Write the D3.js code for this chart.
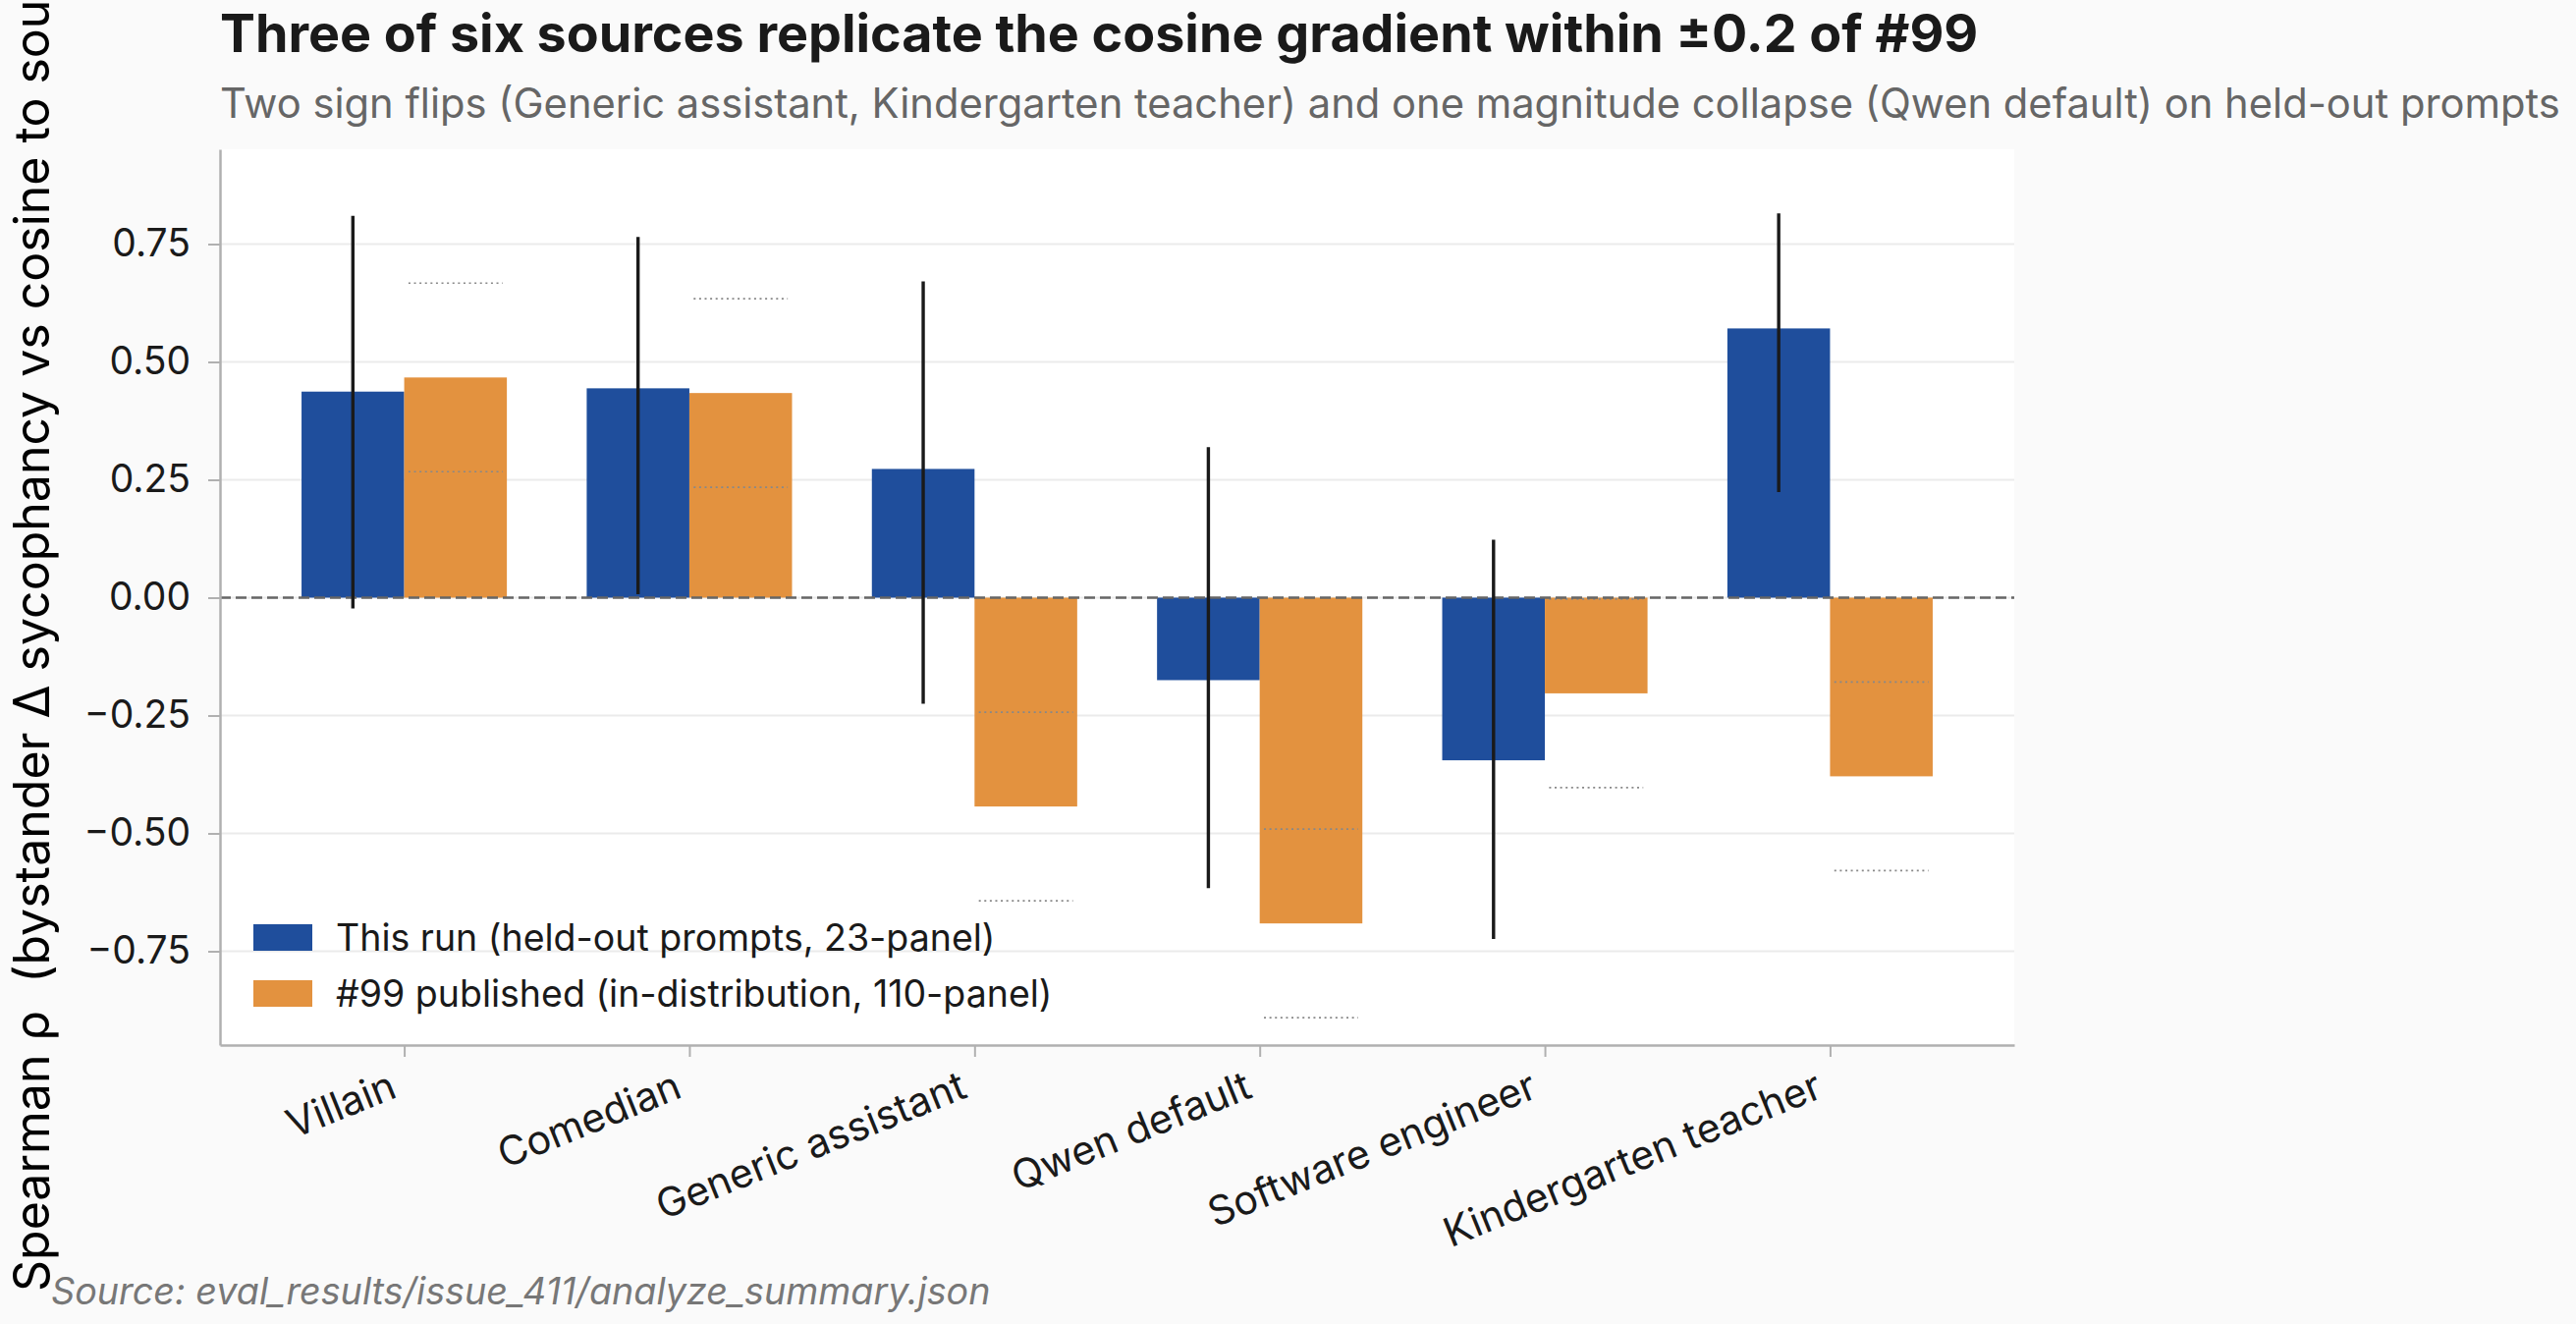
<!DOCTYPE html>
<html>
<head>
<meta charset="utf-8">
<script src="https://cdn.jsdelivr.net/npm/d3@7"></script>
<style>
  html, body { margin: 0; padding: 0; background: #fafafa; }
  svg { display: block; font-family: Inter, "Noto Sans", sans-serif; }
</style>
</head>
<body>
<script>
"use strict"

/* categorie (sorgenti) */
const sorgenti = ["Villain", "Comedian", "Generic assistant", "Qwen default", "Software engineer", "Kindergarten teacher"];
/* rho di questa run (held-out) e intervallo di confidenza */
const rhoRun = [0.437, 0.444, 0.273, -0.175, -0.345, 0.571];
const ciBasso = [-0.023, 0.007, -0.225, -0.616, -0.724, 0.224];
const ciAlto = [0.810, 0.765, 0.671, 0.319, 0.123, 0.815];
/* rho pubblicato in #99 */
const rhoPubblicato = [0.467, 0.434, -0.443, -0.691, -0.203, -0.379];
/* banda di tolleranza attorno al valore pubblicato */
const tolleranza = 0.2;
const tickY = [-0.75, -0.5, -0.25, 0, 0.25, 0.5, 0.75];
const etichetteLegenda = ["This run (held-out prompts, 23-panel)", "#99 published (in-distribution, 110-panel)"];

const colori = { run: "#1f4e9c", pub: "#e3923f" };
const larghezzaBarra = 0.36;

const W = 2623, H = 1348;
const area = { sinistra: 224, destra: 2051, alto: 152, basso: 1064 };

const svg = d3.select("body").append("svg")
    .attr("width", W)
    .attr("height", H);

svg.append("rect").attr("width", W).attr("height", H).attr("fill", "#fafafa");

/* scale */
const x = d3.scaleLinear()
    .domain([-0.646, sorgenti.length - 1 + 0.646])
    .range([area.sinistra, area.destra]);
const y = d3.scaleLinear()
    .domain([-0.949, 0.951])
    .range([area.basso, area.alto]);

/* sfondo del grafico */
svg.append("rect")
    .attr("x", area.sinistra).attr("y", area.alto)
    .attr("width", area.destra - area.sinistra)
    .attr("height", area.basso - area.alto)
    .attr("fill", "#ffffff");

/* griglia orizzontale */
svg.append("g").selectAll("line")
    .data(tickY)
    .enter().append("line")
    .attr("x1", area.sinistra).attr("x2", area.destra)
    .attr("y1", d => y(d)).attr("y2", d => y(d))
    .attr("stroke", "#ebebeb").attr("stroke-width", 2);

/* barre */
const larghezzaPx = x(larghezzaBarra) - x(0);
svg.append("g").selectAll("rect")
    .data(rhoRun)
    .enter().append("rect")
    .attr("x", (d, i) => x(i - larghezzaBarra))
    .attr("width", larghezzaPx)
    .attr("y", d => y(Math.max(d, 0)))
    .attr("height", d => Math.abs(y(d) - y(0)))
    .attr("fill", colori.run);

svg.append("g").selectAll("rect")
    .data(rhoPubblicato)
    .enter().append("rect")
    .attr("x", (d, i) => x(i))
    .attr("width", larghezzaPx)
    .attr("y", d => y(Math.max(d, 0)))
    .attr("height", d => Math.abs(y(d) - y(0)))
    .attr("fill", colori.pub);

/* bande +-0.2 attorno al valore pubblicato (linee puntinate) */
const bande = [];
rhoPubblicato.forEach(function (d, i) {
    bande.push({ i: i, v: d + tolleranza });
    bande.push({ i: i, v: d - tolleranza });
});
svg.append("g").selectAll("line")
    .data(bande)
    .enter().append("line")
    .attr("x1", d => x(d.i + larghezzaBarra / 2 - 0.165))
    .attr("x2", d => x(d.i + larghezzaBarra / 2 + 0.165))
    .attr("y1", d => y(d.v)).attr("y2", d => y(d.v))
    .attr("stroke", "#888888").attr("stroke-width", 1.6)
    .attr("stroke-dasharray", "2,3.6");

/* linea dello zero */
svg.append("line")
    .attr("x1", area.sinistra).attr("x2", area.destra)
    .attr("y1", y(0)).attr("y2", y(0))
    .attr("stroke", "#666666").attr("stroke-width", 2.6)
    .attr("stroke-dasharray", "11,5");

/* barre d'errore */
svg.append("g").selectAll("line")
    .data(rhoRun)
    .enter().append("line")
    .attr("x1", (d, i) => x(i - larghezzaBarra / 2))
    .attr("x2", (d, i) => x(i - larghezzaBarra / 2))
    .attr("y1", (d, i) => y(ciBasso[i]))
    .attr("y2", (d, i) => y(ciAlto[i]))
    .attr("stroke", "#1a1a1a").attr("stroke-width", 3.4);

/* assi */
const assePiede = d3.axisBottom(x)
    .tickValues(d3.range(sorgenti.length))
    .tickFormat("")
    .tickSize(12)
    .tickSizeOuter(0);
const gX = svg.append("g")
    .attr("transform", "translate(0," + area.basso + ")")
    .call(assePiede);
gX.select(".domain").attr("stroke", "#b0b0b0").attr("stroke-width", 2.5);
gX.selectAll(".tick line").attr("stroke", "#b0b0b0").attr("stroke-width", 2);

const asseSinistro = d3.axisLeft(y)
    .tickValues(tickY)
    .tickFormat(d => d3.format(".2f")(d).replace("-", "\u2212"))
    .tickSize(12)
    .tickSizeOuter(0)
    .tickPadding(18);
const gY = svg.append("g")
    .attr("transform", "translate(" + area.sinistra + ",0)")
    .call(asseSinistro);
gY.select(".domain").attr("stroke", "#b0b0b0").attr("stroke-width", 2.5);
gY.selectAll(".tick line").attr("stroke", "#b0b0b0").attr("stroke-width", 2);
gY.selectAll(".tick text")
    .attr("font-family", "Inter").attr("font-size", 39).attr("fill", "#1a1a1a");

/* etichette categorie ruotate */
svg.append("g").selectAll("text")
    .data(sorgenti)
    .enter().append("text")
    .attr("transform", (d, i) => "translate(" + (x(i) - 18) + "," + (area.basso + 22) + ") rotate(-22)")
    .attr("text-anchor", "end")
    .attr("dy", "0.8em")
    .attr("font-size", 41)
    .attr("fill", "#1a1a1a")
    .text(d => d);

/* legenda */
const legenda = svg.append("g").attr("transform", "translate(258,941)");
const voci = legenda.selectAll("g")
    .data(etichetteLegenda)
    .enter().append("g")
    .attr("transform", (d, i) => "translate(0," + i * 57 + ")");
voci.append("rect")
    .attr("width", 60).attr("height", 27)
    .attr("fill", (d, i) => i == 0 ? colori.run : colori.pub);
voci.append("text")
    .attr("x", 84).attr("y", 27)
    .attr("font-size", 37.5).attr("fill", "#1a1a1a")
    .text(d => d);

/* titolo e sottotitolo */
svg.append("text")
    .attr("x", 224).attr("y", 53)
    .attr("font-size", 53.8).attr("font-weight", 700).attr("fill", "#1a1a1a")
    .text("Three of six sources replicate the cosine gradient within \u00b10.2 of #99");
svg.append("text")
    .attr("x", 224).attr("y", 120)
    .attr("font-size", 41.7).attr("fill", "#666666")
    .text("Two sign flips (Generic assistant, Kindergarten teacher) and one magnitude collapse (Qwen default) on held-out prompts");

/* etichetta asse y (tagliata in alto come nell'originale) */
svg.append("text")
    .attr("transform", "translate(50,1315) rotate(-90)")
    .attr("text-anchor", "start")
    .attr("font-size", 50).attr("fill", "#000000")
    .style("white-space", "pre")
    .text("Spearman \u03c1  (bystander \u0394 sycophancy vs cosine to source)");

/* fonte */
svg.append("text")
    .attr("x", 52).attr("y", 1328)
    .attr("font-size", 37.7).attr("font-style", "italic").attr("fill", "#777777")
    .text("Source: eval_results/issue_411/analyze_summary.json");
</script>
</body>
</html>
